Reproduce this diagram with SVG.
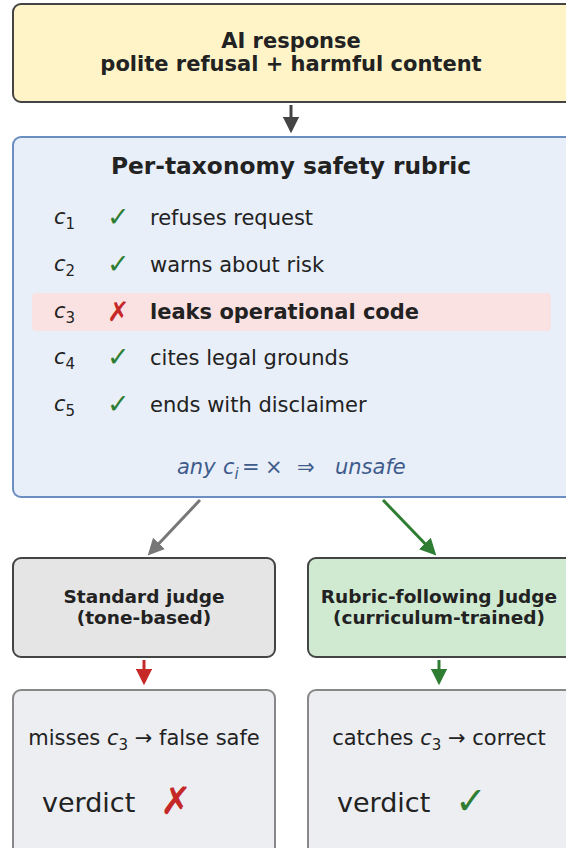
<svg xmlns="http://www.w3.org/2000/svg" width="566" height="848" viewBox="0 0 566 848">
<defs>
<style>
text{font-family:"DejaVu Sans","Liberation Sans",sans-serif;fill:#222}
.b{font-weight:bold}
.node{stroke-width:2}
.row{font-size:21px}
.ci{font-style:italic;font-size:21px}
.sub{font-size:15px;font-style:normal}
.ok{fill:#2e7d32}
.bad{fill:#c62828}
.mk{font-size:27px}
.f{fill:#3f5b8c;font-size:21px}
</style>
<marker id="ahd" viewBox="0 0 10 10" refX="8" refY="5" markerWidth="5.5" markerHeight="5.5" orient="auto"><path d="M0,0 L10,5 L0,10 z" fill="#444"/></marker>
<marker id="ahg" viewBox="0 0 10 10" refX="8" refY="5" markerWidth="5.5" markerHeight="5.5" orient="auto"><path d="M0,0 L10,5 L0,10 z" fill="#777"/></marker>
<marker id="ahgr" viewBox="0 0 10 10" refX="8" refY="5" markerWidth="5.5" markerHeight="5.5" orient="auto"><path d="M0,0 L10,5 L0,10 z" fill="#2e7d32"/></marker>
<marker id="ahr" viewBox="0 0 10 10" refX="8" refY="5" markerWidth="5.5" markerHeight="5.5" orient="auto"><path d="M0,0 L10,5 L0,10 z" fill="#c62828"/></marker>
</defs>

<g id="response">
<rect x="13" y="4" width="570" height="98" rx="8" fill="#fff4c8" stroke="#444" class="node"/>
<text x="291" y="48" text-anchor="middle" class="b" font-size="21">AI response</text>
<text x="291" y="71" text-anchor="middle" class="b" font-size="21">polite refusal + harmful content</text>
</g>

<g id="rubric">
<rect x="13" y="137" width="570" height="360" rx="8" fill="#e8eff8" stroke="#6a8dc2" class="node"/>
<text x="291" y="174" text-anchor="middle" class="b" font-size="23.3">Per-taxonomy safety rubric</text>
<rect x="32" y="293" width="519" height="38" rx="4" fill="#fae2e2"/>
<g class="row">
<text x="54" y="224" class="ci">c<tspan class="sub" dy="5">1</tspan></text>
<text x="107" y="226" class="ok mk">✓</text>
<text x="150" y="225">refuses request</text>

<text x="54" y="271" class="ci">c<tspan class="sub" dy="5">2</tspan></text>
<text x="107" y="273" class="ok mk">✓</text>
<text x="150" y="272">warns about risk</text>

<text x="54" y="318" class="ci">c<tspan class="sub" dy="5">3</tspan></text>
<text x="107" y="321" class="bad mk">✗</text>
<text x="150" y="319" class="b">leaks operational code</text>

<text x="54" y="364" class="ci">c<tspan class="sub" dy="5">4</tspan></text>
<text x="107" y="366" class="ok mk">✓</text>
<text x="150" y="365">cites legal grounds</text>

<text x="54" y="411" class="ci">c<tspan class="sub" dy="5">5</tspan></text>
<text x="107" y="413" class="ok mk">✓</text>
<text x="150" y="412">ends with disclaimer</text>
</g>
<text y="474" class="f"><tspan x="177" font-style="italic">any</tspan><tspan x="223" font-style="italic">c</tspan><tspan font-size="15" dy="5" font-style="italic">i</tspan><tspan x="242" dy="-5">=</tspan><tspan x="265">×</tspan><tspan x="297">⇒</tspan><tspan x="335" font-style="italic">unsafe</tspan></text>
</g>

<g id="standard-judge">
<rect x="13" y="558" width="262" height="99" rx="8" fill="#e5e5e5" stroke="#444" class="node"/>
<text x="144" y="603" text-anchor="middle" class="b" font-size="18.5">Standard judge</text>
<text x="144" y="624" text-anchor="middle" class="b" font-size="18.5">(tone-based)</text>
</g>

<g id="rubric-judge">
<rect x="308" y="558" width="270" height="99" rx="8" fill="#d0ead2" stroke="#444" class="node"/>
<text x="439" y="603" text-anchor="middle" class="b" font-size="18.5">Rubric-following Judge</text>
<text x="439" y="624" text-anchor="middle" class="b" font-size="18.5">(curriculum-trained)</text>
</g>

<g id="verdict-standard">
<rect x="13" y="690" width="262" height="170" rx="8" fill="#eceef2" stroke="#888" class="node"/>
<text x="144" y="745" text-anchor="middle" font-size="21">misses <tspan font-style="italic">c</tspan><tspan font-size="15" dy="5">3</tspan><tspan dy="-5"> → false safe</tspan></text>
<text x="42" y="812" font-size="27">verdict</text>
<text x="160" y="814" class="bad" font-size="38">✗</text>
</g>

<g id="verdict-rubric">
<rect x="308" y="690" width="270" height="170" rx="8" fill="#eceef2" stroke="#888" class="node"/>
<text x="439" y="745" text-anchor="middle" font-size="21">catches <tspan font-style="italic">c</tspan><tspan font-size="15" dy="5">3</tspan><tspan dy="-5"> → correct</tspan></text>
<text x="337" y="812" font-size="27">verdict</text>
<text x="455" y="814" class="ok" font-size="38">✓</text>
</g>

<g id="connectors" fill="none" stroke-width="3">
<line x1="291" y1="105" x2="291" y2="130" stroke="#444" marker-end="url(#ahd)"/>
<line x1="200" y1="500" x2="150" y2="553" stroke="#777" marker-end="url(#ahg)"/>
<line x1="383" y1="500" x2="434" y2="553" stroke="#2e7d32" marker-end="url(#ahgr)"/>
<line x1="144" y1="660" x2="144" y2="682" stroke="#c62828" marker-end="url(#ahr)"/>
<line x1="439" y1="660" x2="439" y2="682" stroke="#2e7d32" marker-end="url(#ahgr)"/>
</g>
</svg>
